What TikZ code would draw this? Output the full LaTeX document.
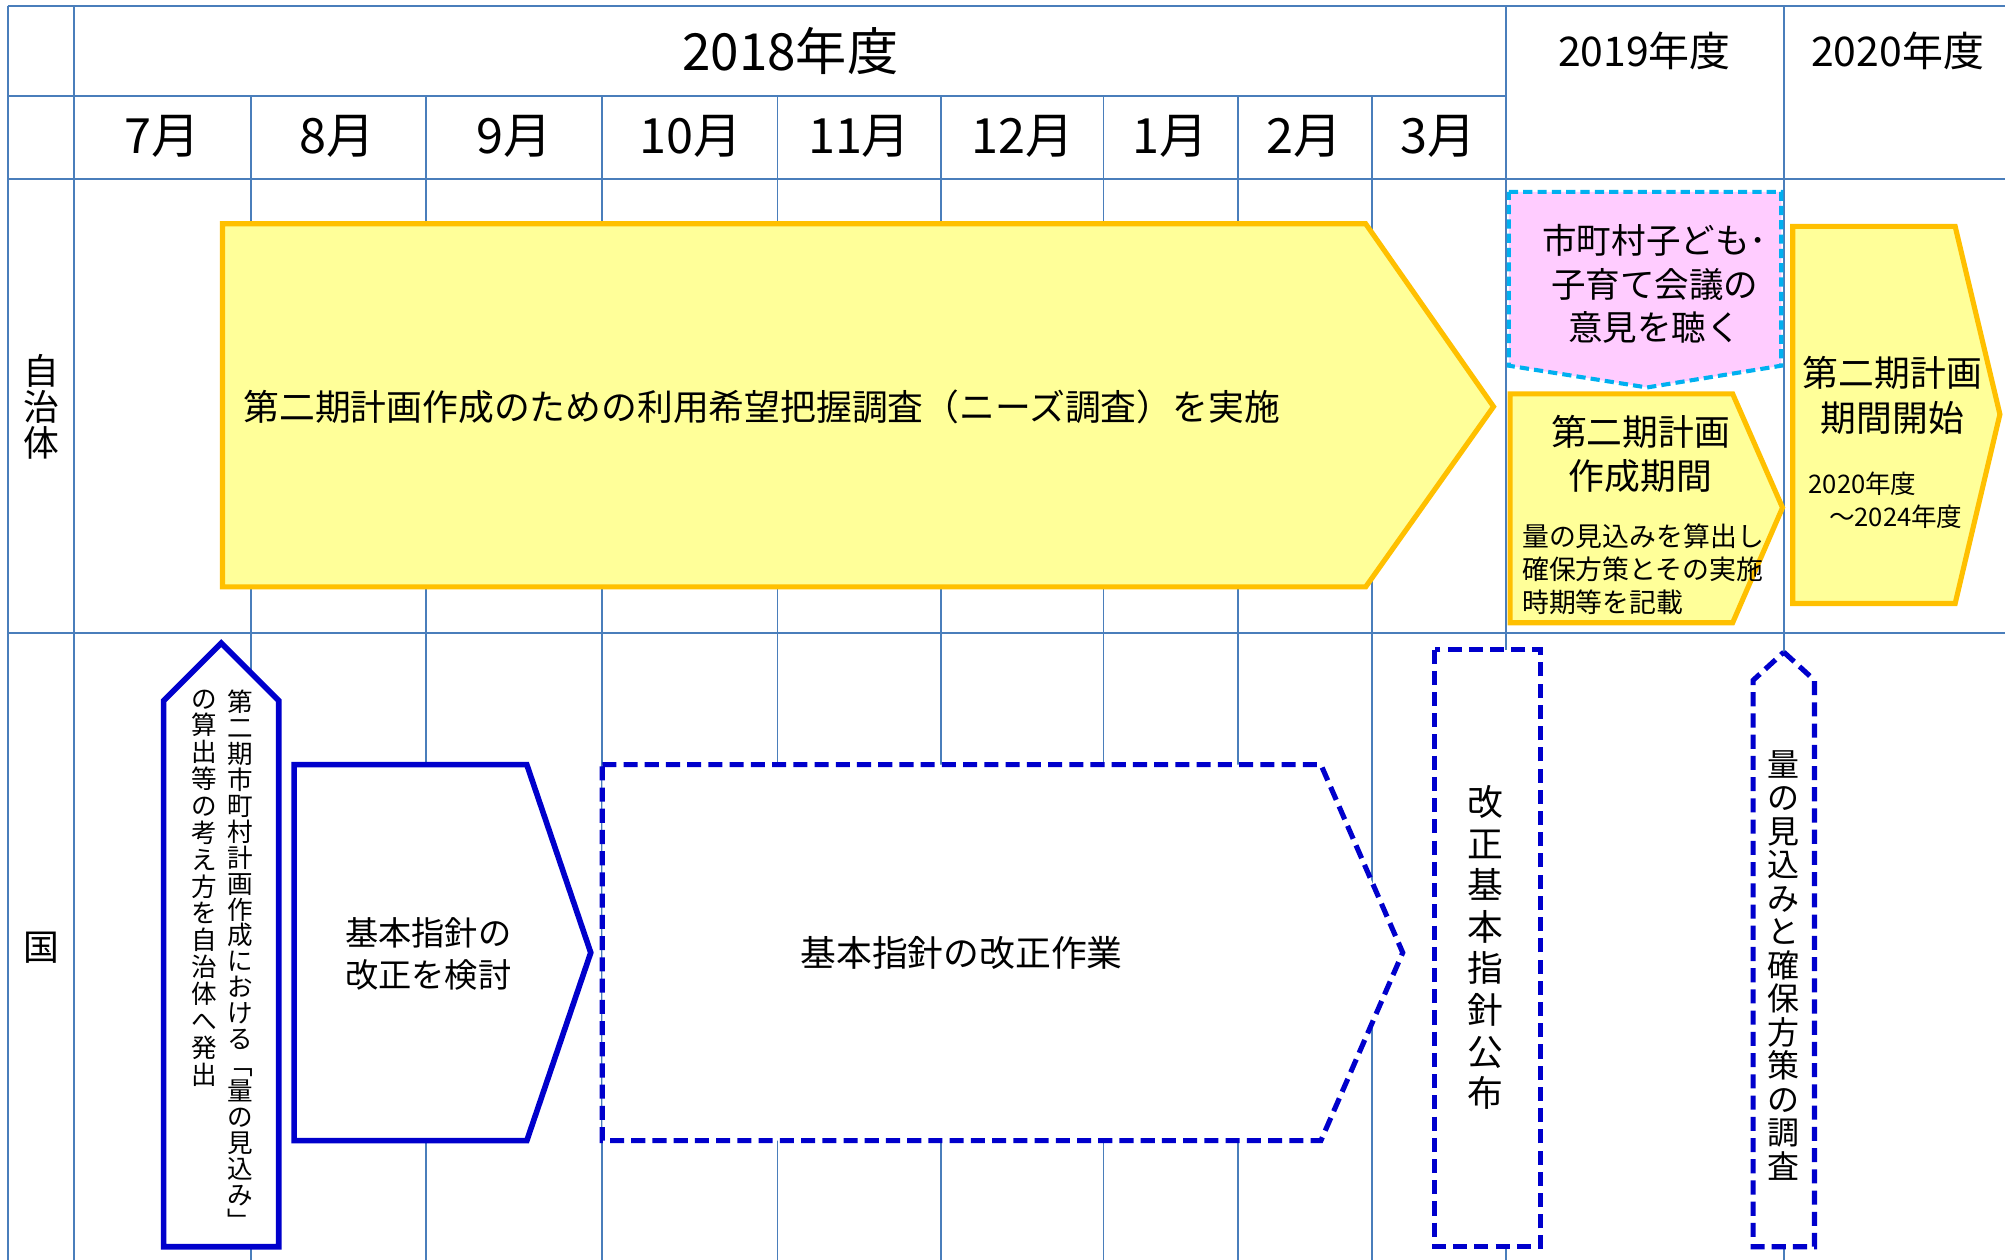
\documentclass[tikz,border=0pt]{standalone}
\usepackage{fontspec}
\setmainfont{Noto Sans CJK JP}
\definecolor{gridc}{HTML}{4A7EBB}
\definecolor{yfill}{HTML}{FFFF99}
\definecolor{ystroke}{HTML}{FFC000}
\definecolor{pfill}{HTML}{FFCCFF}
\definecolor{cyanc}{HTML}{00B0F0}
\definecolor{bluec}{HTML}{0000CC}
\ExplSyntaxOn
\NewDocumentCommand\vtext{mm}{
  \vbox{\baselineskip=#1\relax\lineskiplimit=-\maxdimen
    \tl_map_inline:nn{#2}{\hbox_to_wd:nn{1em}{\hss##1\hss}}}}
\ExplSyntaxOff
\tikzset{
  gridline/.style={draw=gridc, line width=0.75pt},
  ybox/.style={draw=ystroke, fill=yfill, line width=2pt, line join=miter},
  pbox/.style={draw=cyanc, fill=pfill, line width=1.6pt, dash pattern=on 3.6pt off 2pt},
  bbox/.style={draw=bluec, fill=white, line width=2.2pt, line join=miter},
  bdash/.style={draw=bluec, fill=white, line width=2pt, dash pattern=on 5.5pt off 2.8pt},
  lbl/.style={inner sep=0pt, text=black},
}
\newcommand\fz[2]{\fontsize{#1pt}{#2pt}\selectfont}
\begin{document}
\begin{tikzpicture}[x=0.5pt,y=-0.5pt]
\useasboundingbox (0,0) rectangle (1568,985);
\fill[white] (0,0) rectangle (1568,985);
% grid
\draw[gridline] (6,5) -- (1568,5);
\draw[gridline] (6,75) -- (1178,75);
\draw[gridline] (6,140) -- (1568,140);
\draw[gridline] (6,495) -- (1568,495);
\draw[gridline] (6,5) -- (6,985);
\draw[gridline] (58,5) -- (58,985);
\foreach \x in {196,333,471,608,736,863,968,1073} \draw[gridline] (\x,75) -- (\x,985);
\draw[gridline] (1178,5) -- (1178,985);
\draw[gridline] (1395,5) -- (1395,985);
% headers
\node[lbl, font=\fz{20}{24}] (y2018) at (618,40) {2018年度};
\node[lbl, font=\fz{16}{19}] (y2019) at (1286,40) {2019年度};
\node[lbl, font=\fz{16}{19}] (y2020) at (1484,40) {2020年度};
\foreach \m/\x/\n in {7月/127/m7, 8月/264/m8, 9月/402/m9, 10月/540/m10, 11月/672/m11, 12月/800/m12, 1月/915/m1, 2月/1020/m2, 3月/1125/m3}
  \node[lbl, font=\fz{19}{23}] (\n) at (\x,107) {\m};
% row labels
\node[lbl, font=\fz{14}{14}] (rowjichi) at (32,318) {\vtext{14pt}{自治体}};
\node[lbl, font=\fz{14}{14}] (rowkuni) at (32,741) {国};
% big yellow arrow
\draw[ybox] (174,175) -- (1068,175) -- (1168,318) -- (1068,459) -- (174,459) -- cycle;
\node[lbl, anchor=west, font=\fz{14}{17}] (survey) at (190,318) {第二期計画作成のための利用希望把握調査（ニーズ調査）を実施};
% pink box
\draw[pbox] (1180,150) -- (1393,150) -- (1393,286) -- (1288,303) -- (1180,286) -- cycle;
\node[lbl, align=center, font=\fz{13.5}{17}] (kaigi) at (1294,222) {市町村子ども･\\子育て会議の\\意見を聴く};
% orange mid box
\draw[ybox] (1181,308) -- (1355,308) -- (1394,397) -- (1355,487) -- (1181,487) -- cycle;
\node[lbl, align=center, font=\fz{14}{17.5}] (sakusei) at (1283,355) {第二期計画\\作成期間};
\node[lbl, anchor=west, align=left, font=\fz{10.5}{13}] (sakuseisub) at (1190,445) {量の見込みを算出し\\確保方策とその実施\\時期等を記載};
% right box
\draw[ybox] (1402,177) -- (1529,177) -- (1564,324) -- (1529,472) -- (1402,472) -- cycle;
\node[lbl, align=center, font=\fz{14}{17.5}] (kaishi) at (1480,309) {第二期計画\\期間開始};
\node[lbl, anchor=west, font=\fz{10}{12}] (p1) at (1414,378) {2020年度};
\node[lbl, anchor=west, font=\fz{10}{12}] (p2) at (1430,404) {～2024年度};
% tall solid pentagon
\draw[bbox] (173,503) -- (218,548) -- (218,975) -- (128,975) -- (128,548) -- cycle;
\node[lbl, anchor=north, font=\fz{10}{10}] (hasshutsuA) at (188,539) {\vtext{10.15pt}{第二期市町村計画作成における﹁量の見込み﹂}};
\node[lbl, anchor=north, font=\fz{10}{10}] (hasshutsuB) at (160,539) {\vtext{10.5pt}{の算出等の考え方を自治体へ発出}};
% kentou box
\draw[bbox] (230,598) -- (412,598) -- (462,745) -- (412,892) -- (230,892) -- cycle;
\node[lbl, align=center, font=\fz{13}{16.5}] (kentou) at (335,746) {基本指針の\\改正を検討};
% sagyou dashed box
\draw[bdash] (471,598) -- (1033,598) -- (1097,745) -- (1033,892) -- (471,892) -- cycle;
\node[lbl, font=\fz{14}{17}] (sagyou) at (752,745) {基本指針の改正作業};
% koufu dashed rect
\draw[bdash] (1122,508) rectangle (1205,975);
\node[lbl, font=\fz{14}{14}] (koufu) at (1162,741) {\vtext{16.25pt}{改正基本指針公布}};
% chousa dashed pentagon
\draw[bdash] (1395,510) -- (1419,532) -- (1419,975) -- (1371,975) -- (1371,532) -- cycle;
\node[lbl, font=\fz{12.5}{13}] (chousa) at (1395,755) {\vtext{13.1pt}{量の見込みと確保方策の調査}};
\end{tikzpicture}
\end{document}
